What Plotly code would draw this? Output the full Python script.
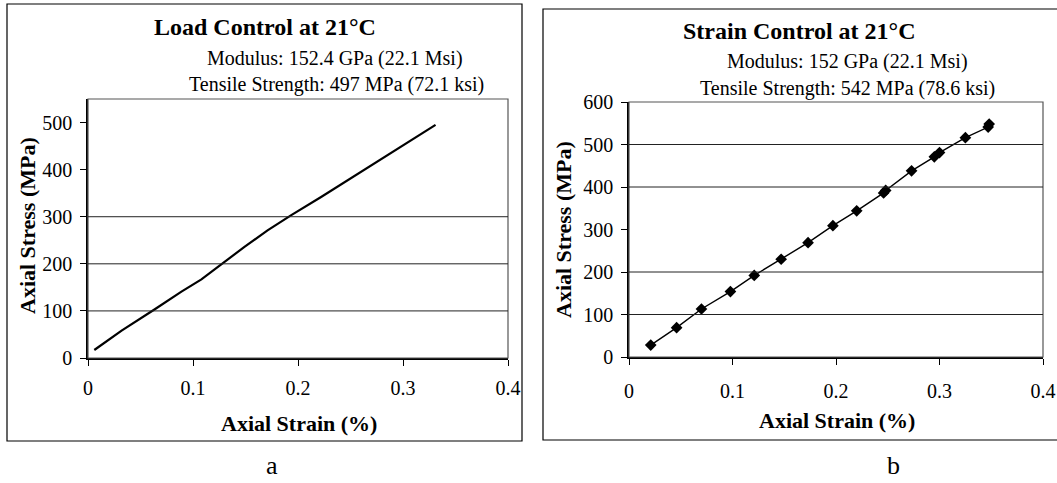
import plotly.graph_objects as go

# ---------------- data ----------------
load_strain = [0.006, 0.032, 0.064, 0.089, 0.108, 0.130, 0.149, 0.171, 0.194,
               0.222, 0.251, 0.270, 0.283, 0.305, 0.331]
load_stress = [17, 58, 104, 141, 167, 204, 236, 271, 304,
               342, 383, 409, 428, 459, 495]

strain_strain = [0.021, 0.046, 0.070, 0.098, 0.121, 0.147, 0.173, 0.197, 0.220,
                 0.246, 0.248, 0.273, 0.295, 0.300, 0.325, 0.347, 0.348]
strain_stress = [28, 69, 113, 154, 192, 230, 269, 309, 344,
                 386, 392, 438, 471, 481, 516, 541, 548]

x_ticks = [0, 0.1, 0.2, 0.3, 0.4]
x_tick_text = ["0", "0.1", "0.2", "0.3", "0.4"]
y_ticks_a = [0, 100, 200, 300, 400, 500]
y_ticks_b = [0, 100, 200, 300, 400, 500, 600]
grid_a = [100, 200, 300]
grid_b = [100, 200, 400, 500]

title_a = "Load Control at 21°C"
sub1_a = "Modulus: 152.4 GPa (22.1 Msi)"
sub2_a = "Tensile Strength: 497 MPa (72.1 ksi)"
title_b = "Strain Control at 21°C"
sub1_b = "Modulus: 152 GPa (22.1 Msi)"
sub2_b = "Tensile Strength: 542 MPa (78.6 ksi)"
x_title = "Axial Strain (%)"
y_title = "Axial Stress (MPa)"

# ---------------- layout helpers ----------------
W, H = 1057, 483
FONT = "Liberation Serif"


def px(x):
    return x / W


def py(y):
    return 1 - y / H


fig = go.Figure()

fig.add_trace(go.Scatter(x=load_strain, y=load_stress, mode="lines",
                         line=dict(color="black", width=2.2),
                         xaxis="x", yaxis="y", showlegend=False))
fig.add_trace(go.Scatter(x=strain_strain, y=strain_stress, mode="lines+markers",
                         line=dict(color="black", width=1.4),
                         marker=dict(symbol="diamond", size=9, color="black"),
                         xaxis="x2", yaxis="y2", showlegend=False))

axis_common = dict(showgrid=False, zeroline=False, showline=True,
                   linecolor="black", linewidth=1.5, ticks="outside",
                   ticklen=6, tickcolor="black", tickwidth=1,
                   automargin=False,
                   tickfont=dict(family=FONT, size=20, color="black"))

fig.update_layout(
    template="none",
    width=W, height=H, autosize=False,
    margin=dict(l=0, r=0, t=0, b=0, pad=0),
    paper_bgcolor="white", plot_bgcolor="white",
    xaxis=dict(domain=[px(88), px(508)], range=[0, 0.4], tickvals=x_ticks,
               ticktext=x_tick_text, anchor="y", ticklabelstandoff=5,
               **axis_common),
    yaxis=dict(domain=[py(358), py(99)], range=[0, 550], tickvals=y_ticks_a,
               anchor="x", ticklabelstandoff=4, **axis_common),
    xaxis2=dict(domain=[px(629), px(1043)], range=[0, 0.4], tickvals=x_ticks,
                ticktext=x_tick_text, anchor="y2", ticklabelstandoff=9,
                **axis_common),
    yaxis2=dict(domain=[py(357), py(102)], range=[0, 600], tickvals=y_ticks_b,
                anchor="x2", ticklabelstandoff=4, **axis_common),
)

shapes = []
# outer panel frames
shapes.append(dict(type="rect", xref="paper", yref="paper",
                   x0=px(7), x1=px(522), y0=py(441), y1=py(4),
                   line=dict(color="black", width=1.2)))
shapes.append(dict(type="rect", xref="paper", yref="paper",
                   x0=px(543), x1=px(1062), y0=py(440), y1=py(9),
                   line=dict(color="black", width=1.2)))
# plot-area borders
for xa, ya in (("x", "y"), ("x2", "y2")):
    shapes.append(dict(type="rect", xref=f"{xa} domain", yref=f"{ya} domain",
                       x0=0, x1=1, y0=0, y1=1,
                       line=dict(color="#555", width=1.2)))
# gridlines
for g in grid_a:
    shapes.append(dict(type="line", xref="x domain", yref="y", x0=0, x1=1,
                       y0=g, y1=g, line=dict(color="#222", width=1)))
for g in grid_b:
    shapes.append(dict(type="line", xref="x2 domain", yref="y2", x0=0, x1=1,
                       y0=g, y1=g, line=dict(color="#222", width=1)))
fig.update_layout(shapes=shapes)

ann = []


def add_text(text, x, y, size, bold=False, angle=0):
    t = f"<b>{text}</b>" if bold else text
    ann.append(dict(text=t, x=px(x), y=py(y), xref="paper", yref="paper",
                    showarrow=False, xanchor="center", yanchor="middle",
                    textangle=angle,
                    font=dict(family=FONT, size=size, color="black")))


add_text(title_a, 265, 27, 24, bold=True)
add_text(sub1_a, 335, 58, 20)
add_text(sub2_a, 336, 84, 20)
add_text(x_title, 299, 423, 22, bold=True)
add_text(y_title, 28, 226, 22, bold=True, angle=-90)
add_text("a", 272, 465, 26)

add_text(title_b, 799, 31, 24, bold=True)
add_text(sub1_b, 847, 62, 20)
add_text(sub2_b, 847, 88, 20)
add_text(x_title, 837, 420, 22, bold=True)
add_text(y_title, 563, 230, 22, bold=True, angle=-90)
add_text("b", 893, 465, 26)

fig.update_layout(annotations=ann)

fig.write_html("out.html")
